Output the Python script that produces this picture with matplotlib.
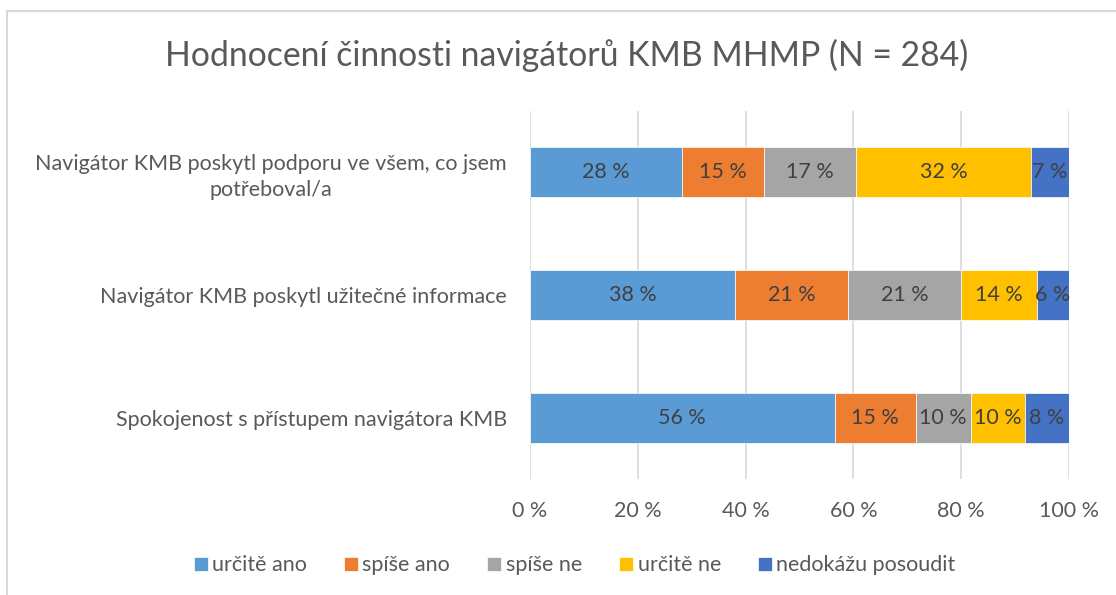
import numpy as np
import matplotlib.pyplot as plt
from matplotlib.lines import Line2D

plt.rcParams['font.family'] = ['Lato', 'DejaVu Sans']

# categories (top to bottom)
questions = [
    "Navigátor KMB poskytl podporu ve všem, co jsem\npotřeboval/a",
    "Navigátor KMB poskytl užitečné informace",
    "Spokojenost s přístupem navigátora KMB",
]
answers = ["určitě ano", "spíše ano", "spíše ne", "určitě ne", "nedokážu posoudit"]
colors = ["#5B9BD5", "#ED7D31", "#A5A5A5", "#FFC000", "#4472C4"]

# shares in % per answer, one value per question
urcite_ano = [28.2, 38.0, 56.4]
spise_ano = [15.2, 21.0, 15.0]
spise_ne = [17.1, 21.0, 10.2]
urcite_ne = [32.4, 14.1, 10.0]
nedokazu = [7.0, 5.9, 8.2]

vals = np.array([urcite_ano, spise_ano, spise_ne, urcite_ne, nedokazu])
shares = vals / vals.sum(axis=0) * 100

fig = plt.figure(figsize=(11.16, 5.95), dpi=100)
ax = fig.add_axes([0.4749, 0.195, 0.483, 0.6184])

y = np.arange(len(questions))
left = np.zeros(len(questions))
for i, name in enumerate(answers):
    bars = ax.barh(y, shares[i], left=left, height=0.41, color=colors[i],
                   edgecolor='white', linewidth=0.5, label=name, zorder=3)
    labels = [f"{round(v):.0f} %" for v in vals[i]]
    ax.bar_label(bars, labels=labels, label_type='center', color='#404040', fontsize=15.5)
    left += shares[i]

ax.set_xlim(0, 100)
ax.set_ylim(-0.5, 2.5)
ax.invert_yaxis()
ax.set_xticks(np.arange(0, 101, 20))
ax.set_xticklabels([f"{t} %" for t in range(0, 101, 20)])
ax.set_yticks(y)
ax.set_yticklabels(questions)
ax.tick_params(axis='both', length=0, labelsize=15.5, labelcolor='#595959')
ax.tick_params(axis='y', pad=16.5)
ax.tick_params(axis='x', pad=16)
for lab in ax.get_yticklabels():
    lab.set_multialignment('center')
    lab.set_linespacing(1.35)
ax.grid(axis='x', color='#D9D9D9', linewidth=1.2, zorder=0)
for s in ax.spines.values():
    s.set_visible(False)

fig.suptitle("Hodnocení činnosti navigátorů KMB MHMP (N = 284)", x=0.508, y=0.935,
             fontsize=24.3, color='#595959')

fig.legend(loc='center', bbox_to_anchor=(0.515, 0.05), ncol=5, frameon=False,
           fontsize=15.5, labelcolor='#595959', handlelength=0.65, handleheight=0.65,
           handletextpad=0.2, columnspacing=1.73)

# chart border (top and left edges visible)
fig.add_artist(Line2D([7 / 1116, 1], [1 - 11 / 595] * 2, color='#D9D9D9', lw=1.5))
fig.add_artist(Line2D([7 / 1116] * 2, [0, 1 - 11 / 595], color='#D9D9D9', lw=1.5))

fig.savefig("out.png", dpi=100, facecolor='white')
